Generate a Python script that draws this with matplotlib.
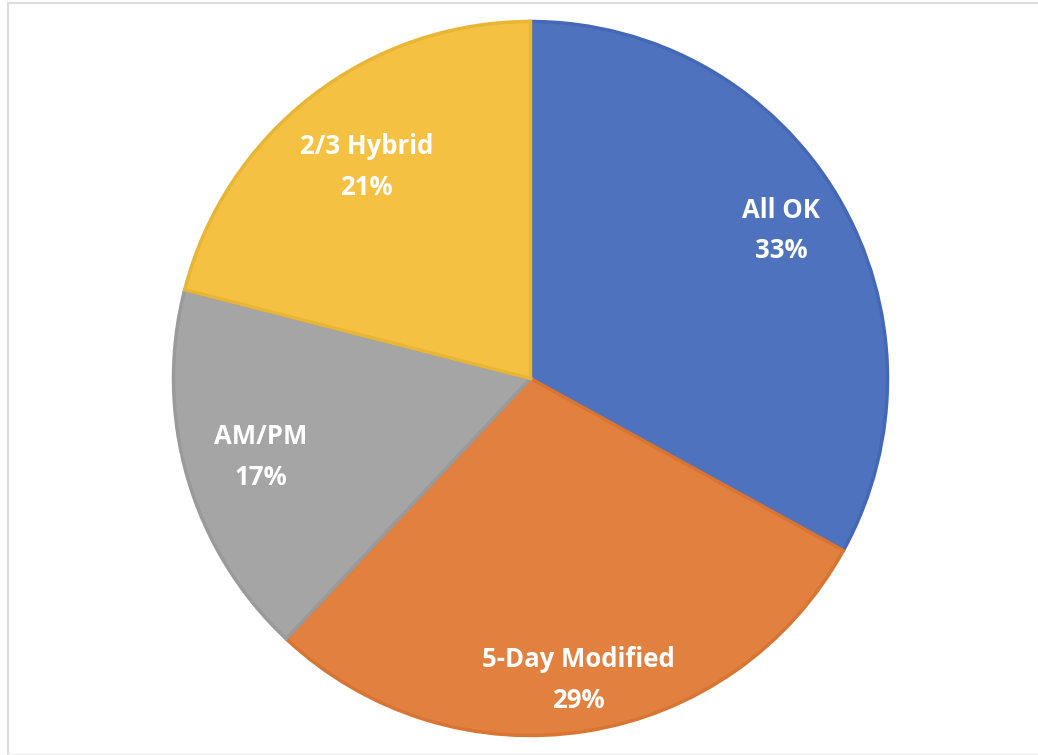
import matplotlib
matplotlib.use("Agg")
import matplotlib.pyplot as plt
from matplotlib.lines import Line2D
import numpy as np

categories = ["All OK", "5-Day Modified", "AM/PM", "2/3 Hybrid"]
values = [33, 29, 17, 21]
colors = ["#4E72BE", "#E28040", "#A5A5A5", "#F4C142"]
edge_colors = ["#4468B5", "#D87533", "#9A9A9A", "#E8B535"]
label_dist = [0.815, 0.855, 0.787, 0.75]

W, H = 1038, 755
fig = plt.figure(figsize=(W / 100, H / 100), dpi=100)
ax = fig.add_axes([0, 0, 1, 1])

cx, cy, r = 530.5, H - 378.5, 357
wedges, _ = ax.pie(values, colors=colors, startangle=90, counterclock=False,
                   center=(cx, cy), radius=r, frame=True,
                   wedgeprops=dict(linewidth=2.5))
for w, ec in zip(wedges, edge_colors):
    w.set_edgecolor(ec)
ax.set_xlim(0, W)
ax.set_ylim(0, H)
ax.set_aspect("equal")
ax.axis("off")

total = sum(values)
for w, cat, v, d in zip(wedges, categories, values, label_dist):
    ang = np.deg2rad((w.theta1 + w.theta2) / 2)
    x = cx + d * r * np.cos(ang)
    y = cy + d * r * np.sin(ang)
    ax.text(x, y, f"{cat}\n{round(100 * v / total)}%", ha="center", va="center",
            color="white", fontsize=18.5, fontweight="bold", family=["Open Sans", "DejaVu Sans"],
            linespacing=1.65)

# faint frame (left, top, bottom)
c = "#DCDCDC"
fig.add_artist(Line2D([7.5 / W, 7.5 / W], [1 / H, 1 - 2.5 / H], transform=fig.transFigure, color=c, lw=1.5))
fig.add_artist(Line2D([7.5 / W, 1], [1 - 2.5 / H, 1 - 2.5 / H], transform=fig.transFigure, color=c, lw=1.5))
fig.add_artist(Line2D([7.5 / W, 1], [1.5 / H, 1.5 / H], transform=fig.transFigure, color="#EFEFEF", lw=1))
fig.savefig("out.png", dpi=100)
